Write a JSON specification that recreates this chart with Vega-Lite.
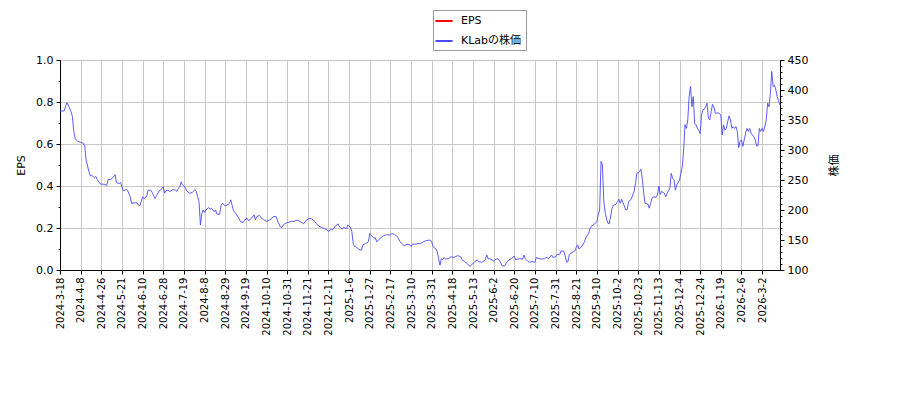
{
  "$schema": "https://vega.github.io/schema/vega-lite/v6.json",
  "width": 720,
  "height": 210,
  "autosize": "none",
  "padding": {"left": 60, "top": 60, "right": 120, "bottom": 130},
  "background": "white",
  "data": {
    "values": [
      {"i":0,"price":365},{"i":3,"price":365},{"i":5,"price":379},{"i":6,"price":375},{"i":8,"price":364},{"i":9,"price":356},{"i":10,"price":331},{"i":11,"price":319},{"i":13,"price":314},{"i":15,"price":313},{"i":17,"price":311},{"i":18,"price":306},{"i":19,"price":283},{"i":21,"price":264},{"i":22,"price":257},{"i":23,"price":258},{"i":25,"price":254},{"i":26,"price":256},{"i":27,"price":251},{"i":29,"price":244},{"i":30,"price":243},{"i":32,"price":243},{"i":34,"price":241},{"i":35,"price":251},{"i":37,"price":251},{"i":38,"price":253},{"i":40,"price":259},{"i":41,"price":246},{"i":43,"price":244},{"i":44,"price":246},{"i":45,"price":239},{"i":46,"price":232},{"i":48,"price":234},{"i":49,"price":233},{"i":51,"price":222},{"i":52,"price":211},{"i":54,"price":212},{"i":56,"price":212},{"i":57,"price":208},{"i":58,"price":207},{"i":59,"price":214},{"i":60,"price":222},{"i":61,"price":219},{"i":63,"price":223},{"i":64,"price":233},{"i":66,"price":233},{"i":67,"price":229},{"i":69,"price":219},{"i":70,"price":223},{"i":72,"price":232},{"i":73,"price":233},{"i":75,"price":239},{"i":76,"price":228},{"i":77,"price":232},{"i":78,"price":233},{"i":80,"price":231},{"i":82,"price":234},{"i":84,"price":233},{"i":85,"price":231},{"i":86,"price":236},{"i":87,"price":239},{"i":88,"price":247},{"i":89,"price":242},{"i":91,"price":238},{"i":92,"price":232},{"i":94,"price":228},{"i":96,"price":229},{"i":98,"price":234},{"i":99,"price":231},
      {"i":100,"price":222},{"i":101,"price":214},{"i":102,"price":175},{"i":103,"price":194},{"i":104,"price":200},{"i":105,"price":196},{"i":106,"price":200},{"i":108,"price":204},{"i":109,"price":201},{"i":110,"price":203},{"i":112,"price":197},{"i":113,"price":200},{"i":114,"price":193},{"i":116,"price":193},{"i":117,"price":208},{"i":118,"price":211},{"i":120,"price":207},{"i":122,"price":209},{"i":123,"price":211},{"i":124,"price":217},{"i":125,"price":208},{"i":126,"price":199},{"i":128,"price":193},{"i":130,"price":186},{"i":131,"price":181},{"i":133,"price":179},{"i":134,"price":183},{"i":136,"price":186},{"i":137,"price":182},{"i":139,"price":186},{"i":141,"price":192},{"i":142,"price":184},{"i":143,"price":189},{"i":145,"price":191},{"i":146,"price":187},{"i":148,"price":184},{"i":150,"price":181},{"i":152,"price":183},{"i":154,"price":186},{"i":155,"price":189},{"i":157,"price":189},{"i":158,"price":182},{"i":160,"price":172},{"i":161,"price":171},{"i":163,"price":177},{"i":165,"price":179},{"i":166,"price":179},{"i":168,"price":181},{"i":170,"price":181},{"i":172,"price":183},{"i":173,"price":183},{"i":175,"price":180},{"i":177,"price":177},{"i":178,"price":181},{"i":181,"price":186},{"i":183,"price":185},{"i":185,"price":181},{"i":186,"price":178},{"i":188,"price":173},{"i":190,"price":171},{"i":192,"price":169},{"i":194,"price":167},{"i":195,"price":164},{"i":197,"price":168},{"i":198,"price":167},
      {"i":200,"price":173},{"i":202,"price":177},{"i":203,"price":172},{"i":205,"price":168},{"i":206,"price":171},{"i":208,"price":169},{"i":209,"price":175},{"i":211,"price":171},{"i":212,"price":164},{"i":213,"price":144},{"i":214,"price":139},{"i":215,"price":139},{"i":217,"price":134},{"i":219,"price":133},{"i":220,"price":142},{"i":222,"price":144},{"i":224,"price":147},{"i":225,"price":161},{"i":226,"price":158},{"i":228,"price":153},{"i":229,"price":154},{"i":230,"price":147},{"i":232,"price":151},{"i":234,"price":156},{"i":236,"price":158},{"i":238,"price":159},{"i":240,"price":158},{"i":241,"price":161},{"i":243,"price":159},{"i":245,"price":156},{"i":247,"price":147},{"i":249,"price":143},{"i":250,"price":140},{"i":252,"price":143},{"i":254,"price":142},{"i":255,"price":139},{"i":256,"price":143},{"i":258,"price":143},{"i":260,"price":144},{"i":262,"price":144},{"i":264,"price":147},{"i":266,"price":149},{"i":269,"price":150},{"i":270,"price":147},{"i":271,"price":139},{"i":273,"price":135},{"i":274,"price":131},{"i":275,"price":119},{"i":276,"price":108},{"i":277,"price":119},{"i":278,"price":117},{"i":279,"price":121},{"i":280,"price":118},{"i":282,"price":119},{"i":284,"price":122},{"i":286,"price":121},{"i":287,"price":122},{"i":289,"price":124},{"i":291,"price":122},{"i":292,"price":117},{"i":294,"price":114},{"i":296,"price":110},{"i":298,"price":106},{"i":299,"price":109},
      {"i":301,"price":113},{"i":303,"price":117},{"i":304,"price":114},{"i":306,"price":113},{"i":307,"price":114},{"i":309,"price":117},{"i":310,"price":125},{"i":311,"price":119},{"i":313,"price":118},{"i":315,"price":115},{"i":316,"price":117},{"i":318,"price":119},{"i":320,"price":113},{"i":321,"price":107},{"i":323,"price":107},{"i":324,"price":111},{"i":326,"price":117},{"i":328,"price":119},{"i":330,"price":123},{"i":331,"price":117},{"i":332,"price":118},{"i":334,"price":119},{"i":336,"price":118},{"i":337,"price":125},{"i":338,"price":119},{"i":340,"price":114},{"i":341,"price":113},{"i":343,"price":114},{"i":345,"price":113},{"i":346,"price":121},{"i":348,"price":119},{"i":350,"price":118},{"i":352,"price":119},{"i":353,"price":121},{"i":355,"price":119},{"i":357,"price":125},{"i":358,"price":121},{"i":360,"price":122},{"i":361,"price":126},{"i":363,"price":126},{"i":364,"price":132},{"i":366,"price":131},{"i":367,"price":123},{"i":368,"price":113},{"i":369,"price":114},{"i":370,"price":126},{"i":372,"price":129},{"i":374,"price":132},{"i":375,"price":138},{"i":376,"price":142},{"i":377,"price":135},{"i":379,"price":139},{"i":381,"price":147},{"i":382,"price":154},{"i":384,"price":161},{"i":385,"price":169},{"i":386,"price":173},{"i":388,"price":176},{"i":390,"price":181},{"i":391,"price":192},{"i":392,"price":200},{"i":393,"price":281},{"i":394,"price":275},{"i":395,"price":215},{"i":396,"price":196},{"i":397,"price":185},{"i":398,"price":178},{"i":399,"price":177},
      {"i":400,"price":190},{"i":401,"price":203},{"i":402,"price":208},{"i":404,"price":210},{"i":405,"price":214},{"i":406,"price":218},{"i":407,"price":211},{"i":408,"price":218},{"i":409,"price":212},{"i":411,"price":200},{"i":412,"price":201},{"i":413,"price":214},{"i":415,"price":218},{"i":416,"price":225},{"i":417,"price":231},{"i":418,"price":244},{"i":419,"price":261},{"i":421,"price":264},{"i":422,"price":268},{"i":423,"price":251},{"i":424,"price":228},{"i":425,"price":211},{"i":427,"price":210},{"i":428,"price":203},{"i":429,"price":211},{"i":430,"price":219},{"i":431,"price":222},{"i":433,"price":221},{"i":434,"price":225},{"i":435,"price":240},{"i":436,"price":226},{"i":437,"price":231},{"i":439,"price":228},{"i":440,"price":222},{"i":441,"price":228},{"i":443,"price":236},{"i":444,"price":261},{"i":445,"price":253},{"i":446,"price":250},{"i":447,"price":233},{"i":448,"price":242},{"i":450,"price":250},{"i":451,"price":261},{"i":452,"price":272},{"i":453,"price":300},{"i":454,"price":342},{"i":455,"price":336},{"i":456,"price":350},{"i":457,"price":389},{"i":458,"price":406},{"i":459,"price":372},{"i":460,"price":389},{"i":461,"price":344},{"i":462,"price":342},{"i":463,"price":336},{"i":464,"price":333},{"i":465,"price":327},{"i":466,"price":358},{"i":467,"price":367},{"i":468,"price":368},{"i":469,"price":372},{"i":470,"price":378},{"i":471,"price":353},{"i":472,"price":350},{"i":473,"price":364},{"i":474,"price":376},{"i":475,"price":372},{"i":476,"price":361},{"i":478,"price":362},{"i":479,"price":361},{"i":480,"price":358},{"i":481,"price":325},{"i":482,"price":342},{"i":483,"price":333},{"i":484,"price":336},{"i":485,"price":347},{"i":486,"price":357},{"i":487,"price":350},{"i":488,"price":336},{"i":489,"price":339},{"i":490,"price":336},{"i":491,"price":339},{"i":492,"price":331},{"i":493,"price":304},{"i":494,"price":314},{"i":495,"price":317},{"i":496,"price":306},{"i":497,"price":317},{"i":498,"price":328},{"i":499,"price":336},
      {"i":500,"price":331},{"i":501,"price":336},{"i":502,"price":328},{"i":503,"price":325},{"i":504,"price":322},{"i":505,"price":317},{"i":506,"price":307},{"i":507,"price":307},{"i":508,"price":336},{"i":509,"price":331},{"i":510,"price":336},{"i":511,"price":331},{"i":512,"price":339},{"i":513,"price":350},{"i":514,"price":378},{"i":515,"price":372},{"i":516,"price":394},{"i":517,"price":431},{"i":518,"price":406},{"i":519,"price":408},{"i":520,"price":400},{"i":521,"price":389},{"i":522,"price":381},{"i":523,"price":375}
    ]
  },
  "encoding": {
    "x": {
      "field": "i",
      "type": "quantitative",
      "scale": {"domain": [0, 523], "nice": false, "zero": false},
      "axis": {
        "title": null,
        "values": [0,15,30,45,60,75,90,105,120,135,150,165,180,195,210,225,240,255,270,285,300,315,330,345,360,375,390,405,420,435,450,465,480,495,510],
        "labelExpr": "['2024-3-18','2024-4-8','2024-4-26','2024-5-21','2024-6-10','2024-6-28','2024-7-19','2024-8-8','2024-8-29','2024-9-19','2024-10-10','2024-10-31','2024-11-21','2024-12-11','2025-1-6','2025-1-27','2025-2-17','2025-3-10','2025-3-31','2025-4-18','2025-5-13','2025-6-2','2025-6-20','2025-7-10','2025-7-31','2025-8-21','2025-9-10','2025-10-2','2025-10-23','2025-11-13','2025-12-4','2025-12-24','2026-1-19','2026-2-6','2026-3-2'][round(datum.value / 15)]",
        "labelAngle": 270,
        "labelFontSize": 10,
        "labelPadding": 3,
        "grid": true
      }
    }
  },
  "layer": [
    {
      "mark": {"type": "line", "strokeWidth": 1},
      "encoding": {
        "y": {
          "field": "eps",
          "type": "quantitative",
          "scale": {"domain": [0, 1], "nice": false, "zero": false},
          "axis": {
            "orient": "left",
            "title": "EPS",
            "values": [0, 0.2, 0.4, 0.6, 0.8, 1.0],
            "format": ".1f",
            "grid": true,
            "titlePadding": 9
          }
        },
        "color": {
          "datum": "EPS",
          "scale": {"domain": ["EPS", "KLabの株価"], "range": ["#ff0000", "#4a4aff"]},
          "legend": {
            "title": null,
            "orient": "none",
            "legendX": 373,
            "legendY": -50,
            "direction": "vertical"
          }
        }
      }
    },
    {
      "mark": {"type": "line"},
      "encoding": {
        "y": {
          "field": "eps_minor",
          "type": "quantitative",
          "scale": {"domain": [0, 1], "nice": false, "zero": false},
          "axis": {
            "orient": "left",
            "title": null,
            "values": [0.1, 0.3, 0.5, 0.7, 0.9],
            "labels": false,
            "domain": false,
            "grid": false,
            "tickSize": 2
          }
        }
      }
    },
    {
      "mark": {"type": "line", "strokeWidth": 0.9},
      "encoding": {
        "y": {
          "field": "price",
          "type": "quantitative",
          "scale": {"domain": [100, 450], "nice": false, "zero": false},
          "axis": {
            "orient": "right",
            "title": "株価",
            "titleAngle": 270,
            "values": [100, 150, 200, 250, 300, 350, 400, 450],
            "grid": false,
            "titlePadding": 32
          }
        },
        "color": {"datum": "KLabの株価"}
      }
    },
    {
      "mark": {"type": "line"},
      "encoding": {
        "y": {
          "field": "price_minor",
          "type": "quantitative",
          "scale": {"domain": [100, 450], "nice": false, "zero": false},
          "axis": {
            "orient": "right",
            "title": null,
            "values": [110,120,130,140,160,170,180,190,210,220,230,240,260,270,280,290,310,320,330,340,360,370,380,390,410,420,430,440],
            "labels": false,
            "domain": false,
            "grid": false,
            "tickSize": 2
          }
        }
      }
    }
  ],
  "resolve": {"scale": {"y": "independent"}, "axis": {"y": "independent"}},
  "config": {
    "font": "DejaVu Sans, Noto Sans CJK JP",
    "view": {"stroke": "black", "strokeWidth": 1},
    "axis": {
      "labelFont": "DejaVu Sans, Noto Sans CJK JP",
      "titleFont": "DejaVu Sans, Noto Sans CJK JP",
      "labelFontSize": 11,
      "titleFontSize": 11,
      "titleFontWeight": "normal",
      "labelColor": "black",
      "titleColor": "black",
      "domainColor": "black",
      "tickColor": "black",
      "tickSize": 4,
      "labelPadding": 3,
      "gridColor": "#c8c8c8",
      "gridWidth": 1
    },
    "legend": {
      "labelFont": "DejaVu Sans, Noto Sans CJK JP",
      "labelFontSize": 11,
      "labelColor": "black",
      "symbolType": "M-1.5,0L1.5,0",
      "symbolStrokeWidth": 2,
      "symbolSize": 130,
      "labelOffset": 10,
      "strokeColor": "#999999",
      "fillColor": "white",
      "padding": 4,
      "rowPadding": 8
    }
  }
}
